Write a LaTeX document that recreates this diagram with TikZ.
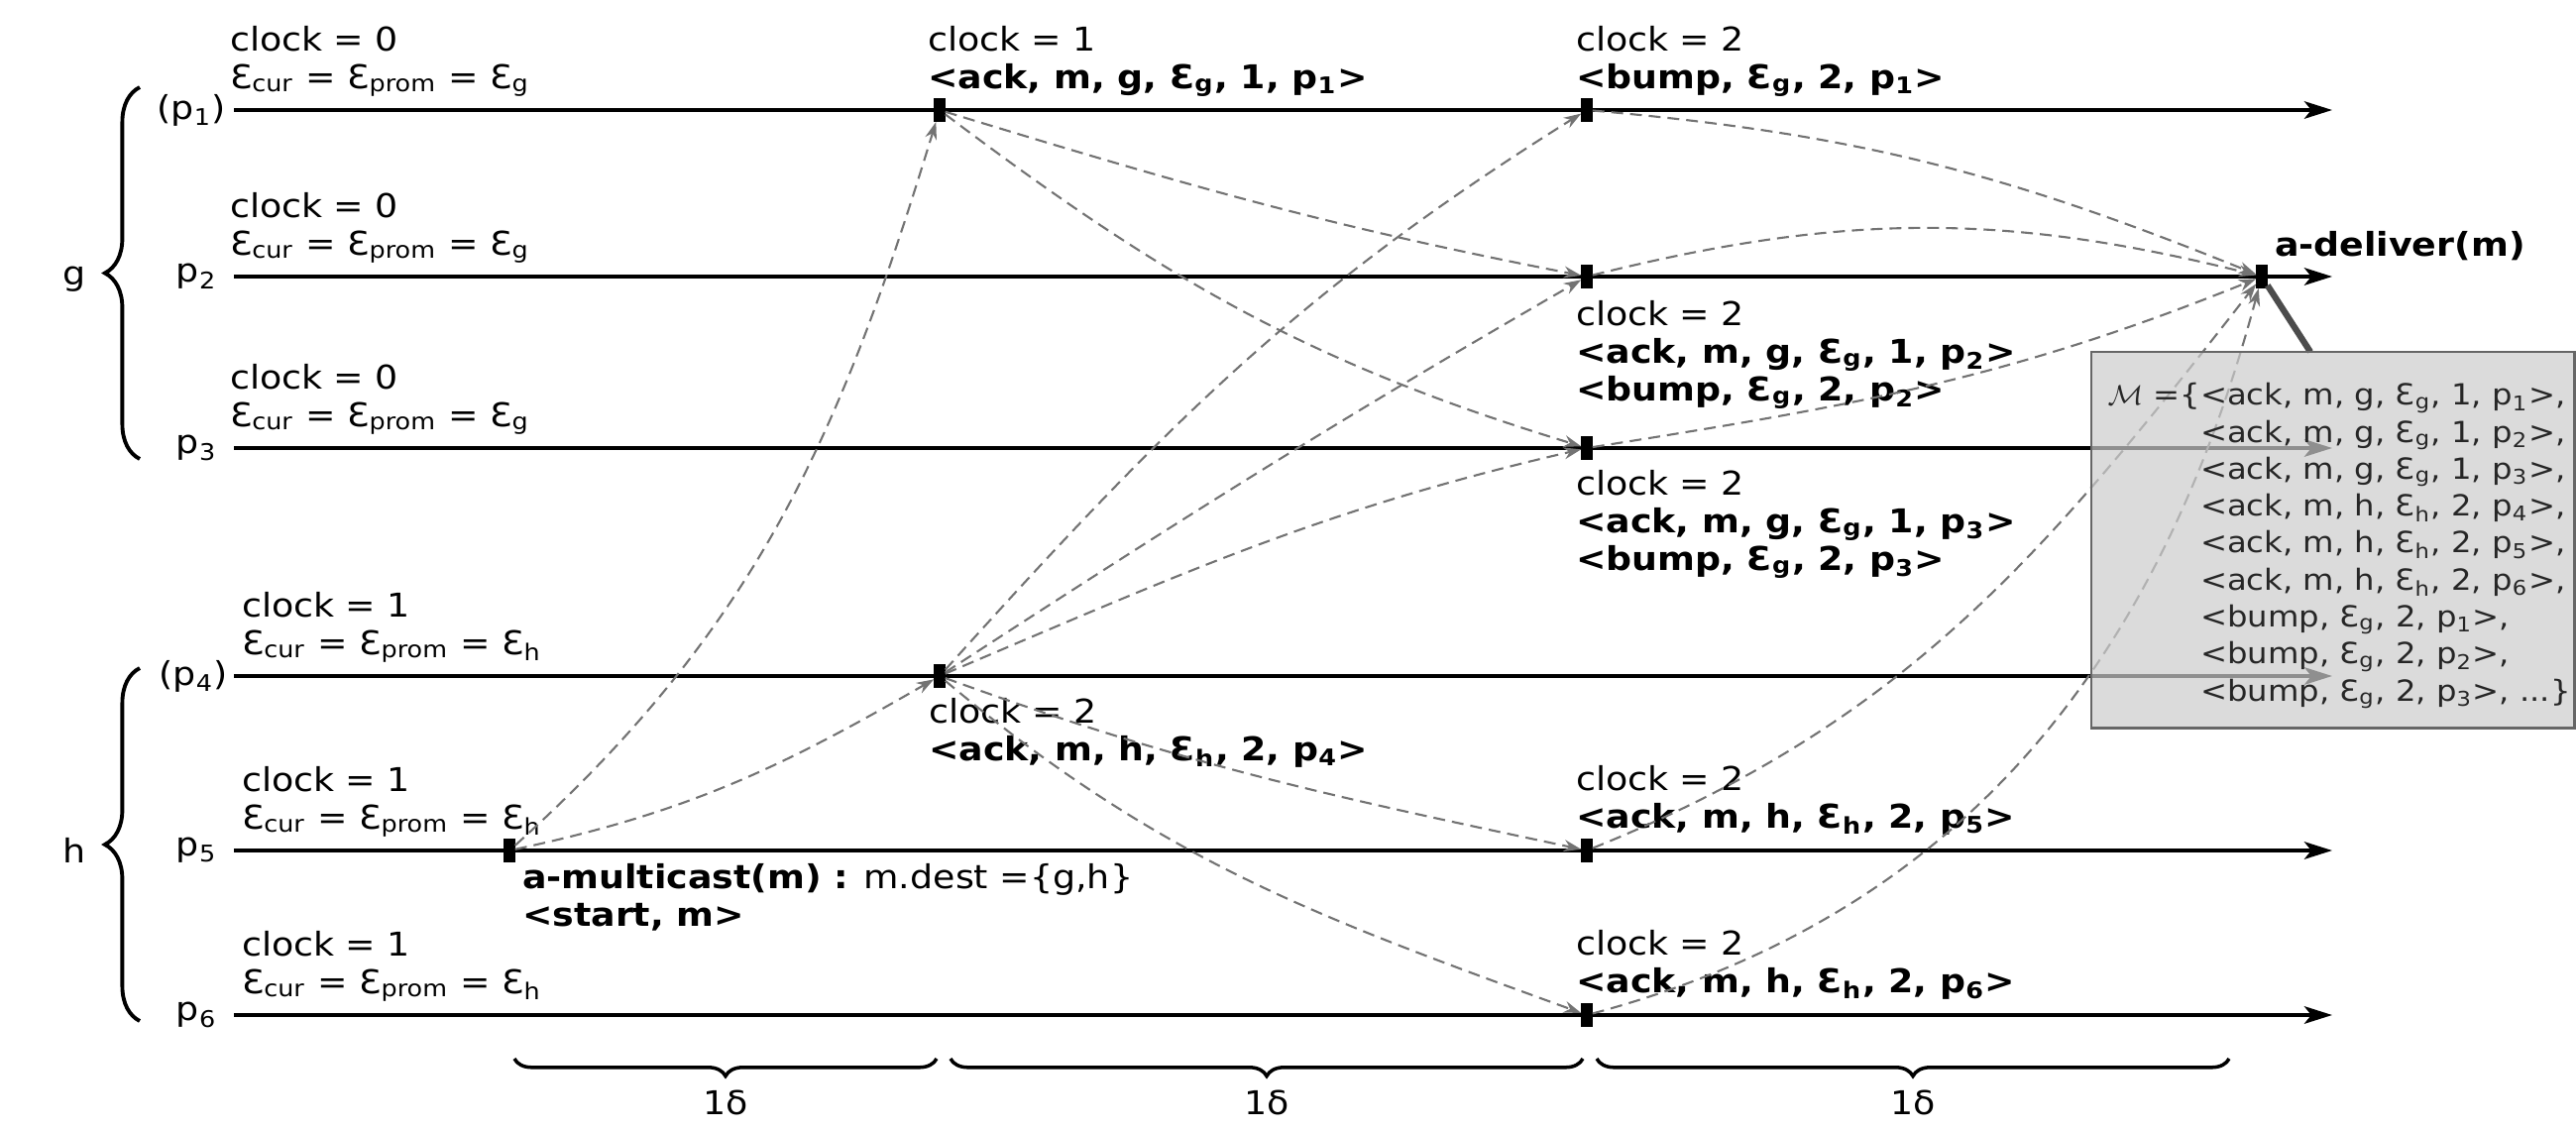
\documentclass[tikz,border=0pt]{standalone}
\usepackage{fontspec}
\setmainfont[FakeStretch=1.1]{DejaVu Sans}
\usetikzlibrary{arrows.meta,decorations.pathreplacing}
\newcommand\Ep[1]{Ɛ\textsubscript{#1}}
\newcommand\pp[1]{p\textsubscript{#1}}
\begin{document}
\begin{tikzpicture}[x=0.01cm,y=-0.01cm,
  every node/.style={inner sep=0pt,outer sep=0pt},
  txt/.style={font=\fontsize{9.4}{10.8}\selectfont,align=left,anchor=base west},
  lab/.style={font=\fontsize{9.4}{10.8}\selectfont,anchor=east},
  proc/.style={line width=1pt,-{Stealth[length=8pt,width=5pt,inset=2pt]}},
  ev/.style={fill=black,minimum width=0.115cm,minimum height=0.24cm},
  msg/.style={draw=black!55,dash pattern=on 3.4pt off 2pt,line width=0.6pt,-{Stealth[length=5pt,width=3.4pt]}},
  brc/.style={decorate,line width=1.1pt},
  boxtxt/.style={font=\fontsize{8.35}{10.6}\selectfont,align=left,anchor=base west,text=black!85}
]
\path[use as bounding box] (0,0) rectangle (2599,1142);

% process lines
\foreach \i/\y in {1/111,2/279,3/452,4/682,5/858,6/1024}{
  \coordinate (s\i) at (236,\y);
  \coordinate (e\i) at (2353,\y);
  \draw[proc] (s\i) -- (e\i);
}
\node[lab] (l1) at (228,111) {(\pp1)};
\node[lab] (l2) at (219,279) {\pp2};
\node[lab] (l3) at (219,452) {\pp3};
\node[lab] (l4) at (230,682) {(\pp4)};
\node[lab] (l5) at (219,858) {\pp5};
\node[lab] (l6) at (219,1024) {\pp6};

% group braces
\draw[brc,decoration={brace,amplitude=10pt}] (141,463) -- (141,88);
\draw[brc,decoration={brace,amplitude=10pt}] (141,1030) -- (141,674);
\node[font=\fontsize{9.4}{10.8}\selectfont] (gg) at (75,282) {g};
\node[font=\fontsize{9.4}{10.8}\selectfont] (hh) at (75,858) {h};

% initial states (anchor = baseline of last line)
\node[txt] (t1) at (232,89) {clock = 0\\\Ep{cur} = \Ep{prom} = \Ep{g}};
\node[txt] (t2) at (232,257) {clock = 0\\\Ep{cur} = \Ep{prom} = \Ep{g}};
\node[txt] (t3) at (232,430) {clock = 0\\\Ep{cur} = \Ep{prom} = \Ep{g}};
\node[txt] (t4) at (244,660) {clock = 1\\\Ep{cur} = \Ep{prom} = \Ep{h}};
\node[txt] (t5) at (244,836) {clock = 1\\\Ep{cur} = \Ep{prom} = \Ep{h}};
\node[txt] (t6) at (244,1002) {clock = 1\\\Ep{cur} = \Ep{prom} = \Ep{h}};

% event labels
\node[txt] (u1) at (936,89) {clock = 1\\\textbf{<ack, m, g, \Ep{g}, 1, \pp1>}};
\node[txt] (v1) at (1590,89) {clock = 2\\\textbf{<bump, \Ep{g}, 2, \pp1>}};
\node[txt] (v2) at (1590,404) {clock = 2\\\textbf{<ack, m, g, \Ep{g}, 1, \pp2>}\\\textbf{<bump, \Ep{g}, 2, \pp2>}};
\node[txt] (v3) at (1590,575) {clock = 2\\\textbf{<ack, m, g, \Ep{g}, 1, \pp3>}\\\textbf{<bump, \Ep{g}, 2, \pp3>}};
\node[txt] (u4) at (937,767) {clock = 2\\\textbf{<ack, m, h, \Ep{h}, 2, \pp4>}};
\node[txt] (v5) at (1590,835) {clock = 2\\\textbf{<ack, m, h, \Ep{h}, 2, \pp5>}};
\node[txt] (v6) at (1590,1001) {clock = 2\\\textbf{<ack, m, h, \Ep{h}, 2, \pp6>}};
\node[txt] (st) at (527,934) {\textbf{a-multicast(m) :} m.dest =\{g,h\}\\\textbf{<start, m>}};
\node[txt] (dl) at (2295,258) {\textbf{a-deliver(m)}};

% event marks
\node[ev] (s5m) at (514,858) {};
\node[ev] (a1m) at (948,111) {};
\node[ev] (a4m) at (948,682) {};
\node[ev] (c1m) at (1601,111) {};
\node[ev] (c2m) at (1601,279) {};
\node[ev] (c3m) at (1601,452) {};
\node[ev] (c5m) at (1601,858) {};
\node[ev] (c6m) at (1601,1024) {};
\node[ev] (del) at (2282,279) {};

% messages
\draw[msg] (s5m) to[out=42,in=253] (a1m);
\draw[msg] (s5m) to[out=12,in=210] (a4m);
\draw[msg] (a1m) to[out=-17,in=169] (c2m);
\draw[msg] (a1m) to[out=-37,in=163] (c3m);
\draw[msg] (a4m) to[out=48,in=212] (c1m);
\draw[msg] (a4m) to[out=33,in=210] (c2m);
\draw[msg] (a4m) to[out=23,in=193] (c3m);
\draw[msg] (a4m) to[out=-20,in=168] (c5m);
\draw[msg] (a4m) to[out=-40,in=160] (c6m);
\draw[msg] (c1m) to[out=-5,in=158] (del);
\draw[msg] (c2m) to[out=14,in=166] (del);
\draw[msg] (c3m) to[out=9,in=202] (del);
\draw[msg] (c5m) to[out=22,in=232] (del);
\draw[msg] (c6m) to[out=15,in=255] (del);

% delivered set box
\coordinate (bt) at (2331,355);
\draw[line width=1.8pt,black!70] (del) -- (bt);
\node[draw=black!60,line width=0.8pt,fill=black!20,fill opacity=0.7,anchor=north west,
      minimum width=4.87cm,minimum height=3.79cm] (box) at (2110,355) {};
\node[boxtxt,anchor=base east] (mset) at (2220,408) {$\mathcal{M}$ =\{};
\node[boxtxt] (mlist) at (2220,707) {<ack, m, g, \Ep{g}, 1, \pp1>,\\<ack, m, g, \Ep{g}, 1, \pp2>,\\<ack, m, g, \Ep{g}, 1, \pp3>,\\<ack, m, h, \Ep{h}, 2, \pp4>,\\<ack, m, h, \Ep{h}, 2, \pp5>,\\<ack, m, h, \Ep{h}, 2, \pp6>,\\<bump, \Ep{g}, 2, \pp1>,\\<bump, \Ep{g}, 2, \pp2>,\\<bump, \Ep{g}, 2, \pp3>, ...\}};

% time braces
\draw[brc,line width=1pt,decoration={brace,mirror,amplitude=5pt}] (519,1068) -- (945,1068);
\draw[brc,line width=1pt,decoration={brace,mirror,amplitude=5pt}] (959,1068) -- (1597,1068);
\draw[brc,line width=1pt,decoration={brace,mirror,amplitude=5pt}] (1611,1068) -- (2249,1068);
\node[font=\fontsize{9.4}{10.8}\selectfont] (d1) at (732,1112) {1δ};
\node[font=\fontsize{9.4}{10.8}\selectfont] (d2) at (1278,1112) {1δ};
\node[font=\fontsize{9.4}{10.8}\selectfont] (d3) at (1930,1112) {1δ};
\end{tikzpicture}
\end{document}
